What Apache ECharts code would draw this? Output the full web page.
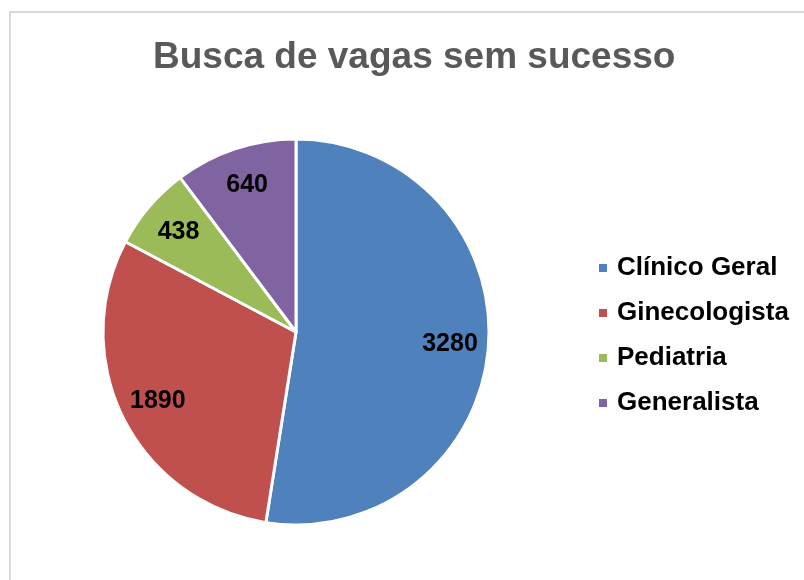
<!DOCTYPE html>
<html>
<head>
<meta charset="utf-8">
<script src="https://cdn.jsdelivr.net/npm/echarts@6/dist/echarts.min.js"></script>
<style>
  html, body { margin: 0; padding: 0; background: #fff; }
  .frame {
    position: absolute; left: 9px; top: 11px;
    width: 830px; height: 620px;
    border: 2px solid #d9d9d9;
  }
  #chart { position: absolute; left: 0; top: 0; width: 804px; height: 580px; }
</style>
</head>
<body>
<div class="frame"></div>
<div id="chart"></div>
<script>
  const categories = ['Clínico Geral', 'Ginecologista', 'Pediatria', 'Generalista'];
  const values = [3280, 1890, 438, 640];
  const colors = ['#4f81bd', '#c0504d', '#9bbb59', '#8064a2'];

  const pieData = categories.map((name, i) => ({ name, value: values[i] }));

  const myChart = echarts.init(document.getElementById('chart'));
  myChart.setOption({
    animation: false,
    color: colors,
    title: {
      text: 'Busca de vagas sem sucesso',
      left: 148,
      top: 34,
      textStyle: {
        fontFamily: 'Liberation Sans, Arial, sans-serif',
        fontSize: 37,
        fontWeight: 'bold',
        color: '#595959',
      },
    },
    legend: {
      data: categories,
      orient: 'vertical',
      left: 592,
      top: 250,
      icon: 'rect',
      itemWidth: 10,
      itemHeight: 10,
      itemGap: 19,
      textStyle: {
        fontFamily: 'Liberation Sans, Arial, sans-serif',
        fontSize: 26,
        fontWeight: 'bold',
        color: '#000',
        lineHeight: 26,
        padding: [0, 0, 0, 4],
      },
    },
    series: [
      {
        type: 'pie',
        radius: 193,
        center: [296, 332],
        startAngle: 90,
        clockwise: true,
        itemStyle: { borderColor: '#fff', borderWidth: 3 },
        label: { show: false },
        labelLine: { show: false },
        emphasis: { disabled: true },
        data: pieData,
      },
      {
        // label ring so the numbers sit near the outer edge like Excel does
        type: 'pie',
        radius: [110, 193],
        center: [296, 332],
        startAngle: 90,
        clockwise: true,
        silent: true,
        itemStyle: { color: 'rgba(0,0,0,0)' },
        label: {
          show: true,
          position: 'inside',
          formatter: '{c}',
          fontFamily: 'Liberation Sans, Arial, sans-serif',
          fontSize: 25,
          fontWeight: 'bold',
          color: '#000',
        },
        labelLine: { show: false },
        emphasis: { disabled: true },
        data: pieData,
      },
    ],
  });
</script>
</body>
</html>
